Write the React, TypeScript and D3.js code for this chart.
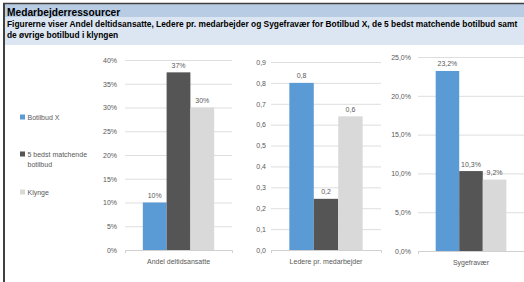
import { useEffect, useRef } from 'react';
import * as d3 from 'd3';

// chart data
const categories = ['Andel deltidsansatte', 'Ledere pr. medarbejder', 'Sygefravær'];
const seriesNames = ['Botilbud X', '5 bedst matchende botilbud', 'Klynge'];
const botilbudX = [0.1, 0.8, 0.232];
const bedstMatchende = [0.374, 0.245, 0.103];
const klynge = [0.3, 0.64, 0.092];
const yMax = [0.4, 0.9, 0.25];
const yStep = [0.05, 0.1, 0.05];
const tickFormats = ['.0%', '.1f', '.1%'];
const valueFormats = ['.0%', '.1f', '.1%'];

const colors = ['#5b9bd5', '#555555', '#d9d9d9'];

// panel layout (plot area per panel)
const panels = [
  { x0: 125, x1: 232, top: 60, bottom: 250, pad: 8 },
  { x0: 271, x1: 381, top: 62, bottom: 250, pad: 5 },
  { x0: 418, x1: 524, top: 57, bottom: 251, pad: 7 },
];

const width = 524;
const height = 282;
const textColor = '#595959';
const font = '"Liberation Sans", Arial, sans-serif';

const da = d3.formatLocale({
  decimal: ',',
  thousands: '.',
  grouping: [3],
  currency: ['', ' kr'],
});

const App: React.FC = () => {
  const svgRef = useRef<SVGSVGElement | null>(null);

  useEffect(() => {
    const svg = d3.select(svgRef.current);
    svg.selectAll('*').remove();

    // header
    svg.append('rect').attr('x', 0).attr('y', 0).attr('width', width).attr('height', height).attr('fill', '#fff');
    svg.append('rect').attr('x', 5).attr('y', 4).attr('width', width).attr('height', 13).attr('fill', '#b8cce4');
    svg.append('rect').attr('x', 5).attr('y', 17).attr('width', width).attr('height', 28).attr('fill', '#dce6f2');
    svg.append('line')
      .attr('x1', 3).attr('x2', width).attr('y1', 3.5).attr('y2', 3.5)
      .attr('stroke', '#404040').attr('stroke-width', 1.5);
    svg.append('line')
      .attr('x1', 4).attr('x2', 4).attr('y1', 3).attr('y2', height)
      .attr('stroke', '#404040').attr('stroke-width', 2);

    svg.append('text')
      .attr('x', 7).attr('y', 15.5)
      .attr('font-family', font).attr('font-size', 10.2).attr('font-weight', 'bold')
      .attr('fill', '#000')
      .text('Medarbejderressourcer');

    const sub = svg.append('text')
      .attr('font-family', font).attr('font-size', 8.4).attr('font-weight', 'bold')
      .attr('fill', '#000');
    sub.append('tspan').attr('x', 7).attr('y', 27)
      .text('Figurerne viser Andel deltidsansatte, Ledere pr. medarbejder og Sygefravær for Botilbud X, de 5 bedst matchende botilbud samt');
    sub.append('tspan').attr('x', 7).attr('y', 37.5)
      .text('de øvrige botilbud i klyngen');

    // legend
    const legendY = [117, 154, 192];
    seriesNames.forEach((name, i) => {
      const g = svg.append('g').attr('transform', `translate(20, ${legendY[i]})`);
      g.append('rect').attr('x', 0).attr('y', -2.5).attr('width', 5).attr('height', 5).attr('fill', colors[i]);
      const t = g.append('text')
        .attr('font-family', font).attr('font-size', 7).attr('fill', textColor);
      if (i === 1) {
        t.append('tspan').attr('x', 7.5).attr('y', 2.5).text('5 bedst matchende');
        t.append('tspan').attr('x', 7.5).attr('y', 12.5).text('botilbud');
      } else {
        t.append('tspan').attr('x', 7.5).attr('y', 2.5).text(name);
      }
    });

    // panels
    categories.forEach((cat, ci) => {
      const p = panels[ci];
      const values = [botilbudX[ci], bedstMatchende[ci], klynge[ci]];

      const y = d3.scaleLinear().domain([0, yMax[ci]]).range([p.bottom, p.top]);
      const x = d3.scaleBand().domain([cat]).range([p.x0, p.x1]).paddingInner(0).paddingOuter(0.25);
      const xs = d3.scaleBand<number>().domain([0, 1, 2]).range([0, x.bandwidth()]).padding(0);

      const ticks = d3.range(0, yMax[ci] + yStep[ci] / 2, yStep[ci]);
      const yAxis = svg.append('g')
        .attr('transform', `translate(${p.x0}, 0)`)
        .call(
          d3.axisLeft(y)
            .tickValues(ticks)
            .tickSize(-(p.x1 - p.x0))
            .tickPadding(p.pad)
            .tickFormat((d) => da.format(tickFormats[ci])(d as number))
        );
      yAxis.select('.domain').remove();
      yAxis.selectAll('line').attr('stroke', '#dedede');
      yAxis.selectAll('text')
        .attr('font-family', font).attr('font-size', 7).attr('fill', textColor);

      // bars
      const gx = x(cat) ?? 0;
      svg.append('g')
        .selectAll('rect')
        .data(values)
        .join('rect')
        .attr('x', (_d, i) => gx + (xs(i) ?? 0))
        .attr('y', (d) => y(d))
        .attr('width', xs.bandwidth())
        .attr('height', (d) => p.bottom - y(d))
        .attr('fill', (_d, i) => colors[i]);

      svg.append('g')
        .selectAll('text')
        .data(values)
        .join('text')
        .attr('x', (_d, i) => gx + (xs(i) ?? 0) + xs.bandwidth() / 2)
        .attr('y', (d) => y(d) - 4.5)
        .attr('text-anchor', 'middle')
        .attr('font-family', font).attr('font-size', 7).attr('fill', textColor)
        .text((d) => da.format(valueFormats[ci])(d));

      // category axis
      const xAxis = svg.append('g')
        .attr('transform', `translate(0, ${p.bottom})`)
        .call(d3.axisBottom(x).tickSizeInner(0).tickSizeOuter(3).tickPadding(9));
      xAxis.select('.domain').attr('stroke', '#d0d0d0');
      xAxis.selectAll('text')
        .attr('font-family', font).attr('font-size', 7).attr('fill', textColor);
    });
  }, []);

  return (
    <div style={{ position: 'absolute', left: 0, top: 0 }}>
      <svg ref={svgRef} width={width} height={height} style={{ display: 'block' }}></svg>
    </div>
  );
};

export default App;
